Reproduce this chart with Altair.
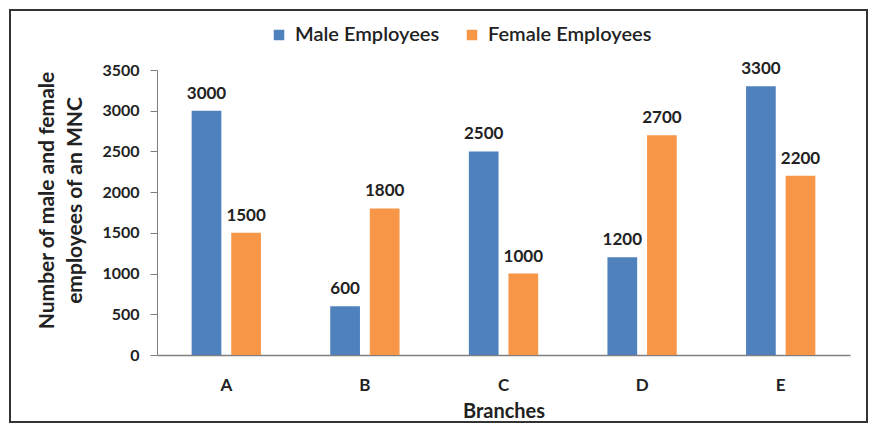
import altair as alt
import pandas as pd

branches = ["A", "B", "C", "D", "E"]
male = [3000, 600, 2500, 1200, 3300]
female = [1500, 1800, 1000, 2700, 2200]
series = ["Male Employees", "Female Employees"]
colors = ["#4F81BD", "#F79646"]

rows = []
for b, m, f in zip(branches, male, female):
    rows.append({"Branch": b, "Series": series[0], "Value": m})
    rows.append({"Branch": b, "Series": series[1], "Value": f})
df = pd.DataFrame(rows)

FONT = "Lato"
W, H = 693, 285

x = alt.X("Branch:N", sort=branches,
          scale=alt.Scale(paddingInner=0.5, paddingOuter=0.25),
          axis=alt.Axis(title="Branches", labelAngle=0, ticks=False,
                        labelFont=FONT, labelFontWeight="bold", labelFontSize=17,
                        labelColor="#222222", labelPadding=22,
                        titleFont=FONT, titleFontWeight="bold", titleFontSize=20,
                        titleColor="#222222", titlePadding=8,
                        domainColor="#7f7f7f", domainWidth=1.5))
xo = alt.XOffset("Series:N", sort=series,
                 scale=alt.Scale(paddingInner=0.25, paddingOuter=0))
y = alt.Y("Value:Q",
          scale=alt.Scale(domain=[0, 3500]),
          axis=alt.Axis(title=["Number of male and female", "employees of an MNC"],
                        values=list(range(0, 3501, 500)), format="d", grid=False,
                        tickSize=7, tickColor="#7f7f7f", domainColor="#7f7f7f",
                        labelFont=FONT, labelFontWeight="bold", labelFontSize=16,
                        labelColor="#222222", labelPadding=11,
                        titleFont=FONT, titleFontWeight="bold", titleFontSize=21,
                        titleColor="#222222", titlePadding=16, titleLineHeight=28,
                        titleY=130))
color = alt.Color("Series:N", sort=series,
                  scale=alt.Scale(domain=series, range=colors),
                  legend=alt.Legend(title=None, orient="none", direction="horizontal",
                                    legendX=112, legendY=-45,
                                    symbolType="square", symbolSize=110,
                                    labelFont=FONT, labelFontSize=20, labelFontWeight=600,
                                    labelColor="#222222", labelLimit=400,
                                    columnPadding=22, labelOffset=6))

bars = alt.Chart(df).mark_bar().encode(x=x, xOffset=xo, y=y, color=color)
labels = alt.Chart(df).mark_text(dy=-17, font=FONT, fontWeight="bold",
                                 fontSize=17, color="#222222").encode(
    x=alt.X("Branch:N", sort=branches), xOffset=alt.XOffset("Series:N", sort=series),
    y="Value:Q", text="Value:Q")

border = alt.Chart(pd.DataFrame({"a": [0]})).mark_rect(
    fill=None, stroke="#333333", strokeWidth=2, clip=False).encode(
    x=alt.value(-147), x2=alt.value(W + 17), y=alt.value(-60), y2=alt.value(H + 67))

chart = alt.layer(border, bars, labels).properties(
    width=W, height=H,
    autosize=alt.AutoSizeParams(type="none"),
    padding={"left": 149, "top": 62, "right": 18, "bottom": 68},
).configure_view(stroke=None)

chart.save("out.html", embed_options={"renderer": "svg", "actions": False})
